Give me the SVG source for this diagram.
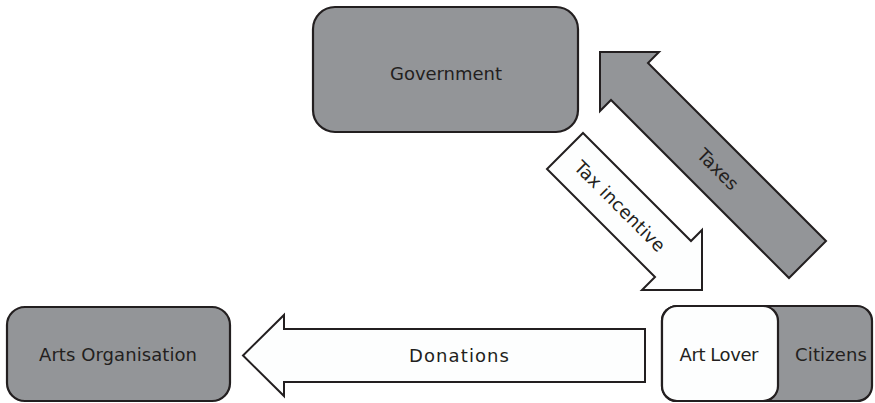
<svg xmlns="http://www.w3.org/2000/svg" width="875" height="403" viewBox="0 0 875 403">
  <style>
    .gray { fill: #939598; stroke: #231f20; stroke-width: 2.2; }
    .white { fill: #fdfefe; stroke: #231f20; stroke-width: 2.2; }
    .arrow { stroke-linejoin: miter; stroke-width: 2; }
    text { font-family: "DejaVu Sans", "Liberation Sans", sans-serif; font-size: 18px; fill: #231f20; text-anchor: middle; }
  </style>
  <rect width="875" height="403" fill="#ffffff"/>
  <g id="government">
    <rect class="gray" x="313" y="7" width="265" height="125" rx="22" ry="22"/>
    <text x="446" y="80" textLength="112">Government</text>
  </g>
  <g id="arts-organisation">
    <rect class="gray" x="7" y="307" width="223" height="94" rx="18" ry="18"/>
    <text x="118" y="361" textLength="158">Arts Organisation</text>
  </g>
  <g id="citizens">
    <rect class="gray" x="662" y="306" width="210" height="95" rx="15" ry="15"/>
    <text x="831" y="361" textLength="72">Citizens</text>
  </g>
  <g id="art-lover">
    <rect class="white" x="662" y="306" width="116" height="95" rx="15" ry="15"/>
    <text x="719" y="361" textLength="79">Art Lover</text>
  </g>
  <g id="connectors">
    <g id="donations">
      <polygon class="white arrow" points="645,329 284,329 284,315 243,355.5 284,396 284,382 645,382"/>
      <text x="459" y="362" textLength="100">Donations</text>
    </g>
    <g id="taxes">
      <polygon class="gray arrow" points="826,241 648,63 659,52 600,52 600,111 611,100 789,278"/>
      <text transform="translate(718,169) rotate(45)" x="0" y="6.5" textLength="50">Taxes</text>
    </g>
    <g id="tax-incentive">
      <polygon class="white arrow" points="583,133 691,241 702,230 702,290 642,290 655,277 547,169"/>
      <text transform="translate(620,206) rotate(45)" x="0" y="6.5" textLength="120">Tax incentive</text>
    </g>
  </g>
</svg>
